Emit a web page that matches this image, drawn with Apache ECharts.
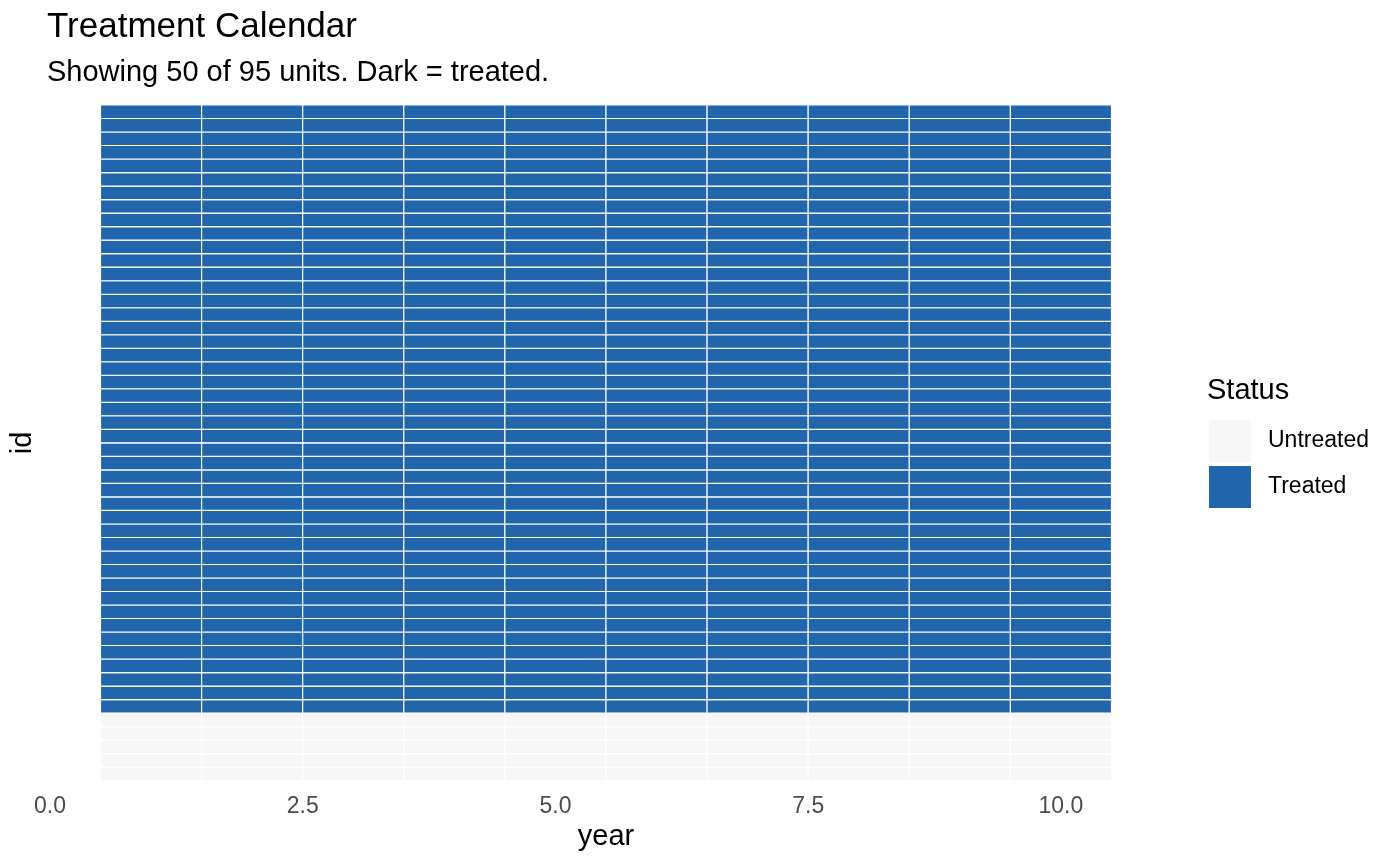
<!DOCTYPE html>
<html>
<head>
<meta charset="utf-8">
<script src="https://cdn.jsdelivr.net/npm/echarts@6/dist/echarts.min.js"></script>
<style>html,body{margin:0;padding:0;background:#fff}#c{width:1400px;height:866px}</style>
</head>
<body>
<div id="c"></div>
<script>
// Data
var years = [1, 2, 3, 4, 5, 6, 7, 8, 9, 10];
var unitIds = [1,2,3,4,5,6,7,8,9,10,11,12,13,14,15,16,17,18,19,20,21,22,23,24,25,
               26,27,28,29,30,31,32,33,34,35,36,37,38,39,40,41,42,43,44,45,46,47,48,49,50];
// status per unit (bottom to top): 0 = untreated, 1 = treated (same for every year shown)
var unitStatus = [0,0,0,0,0,1,1,1,1,1,1,1,1,1,1,1,1,1,1,1,1,1,1,1,1,
                  1,1,1,1,1,1,1,1,1,1,1,1,1,1,1,1,1,1,1,1,1,1,1,1,1];
var statusNames = ['Untreated', 'Treated'];
var xTicks = ['0.0', '2.5', '5.0', '7.5', '10.0'];

var FONT = 'Liberation Sans, Arial, sans-serif';
var colors = ['#F7F7F7', '#2166AC'];

var cells = [[], []];
unitIds.forEach(function (id, i) {
  years.forEach(function (yr) {
    cells[unitStatus[i]].push([yr, id]);
  });
});

function renderTile(params, api) {
  var x = api.value(0), y = api.value(1);
  var p0 = api.coord([x - 0.5, y + 0.5]);
  var p1 = api.coord([x + 0.5, y - 0.5]);
  return {
    type: 'rect',
    shape: { x: p0[0], y: p0[1], width: p1[0] - p0[0], height: p1[1] - p0[1] },
    style: { fill: api.visual('color'), stroke: '#ffffff', lineWidth: 1.1 }
  };
}

var chart = echarts.init(document.getElementById('c'), null, { renderer: 'canvas' });
chart.setOption({
  animation: false,
  backgroundColor: '#ffffff',
  textStyle: { fontFamily: FONT },
  title: [
    { text: 'Treatment Calendar', left: 47, top: 10, padding: 0,
      textStyle: { fontFamily: FONT, fontSize: 35, fontWeight: 'normal', color: '#000' } },
    { text: 'Showing 50 of 95 units. Dark = treated.', left: 47, top: 58.5, padding: 0,
      textStyle: { fontFamily: FONT, fontSize: 29, fontWeight: 'normal', color: '#000' } },
    { text: 'Status', left: 1207, top: 376, padding: 0,
      textStyle: { fontFamily: FONT, fontSize: 29, fontWeight: 'normal', color: '#000' } }
  ],
  legend: {
    orient: 'vertical',
    left: 1209,
    top: 420,
    padding: 0,
    itemWidth: 42,
    itemHeight: 42,
    itemGap: 4,
    icon: 'rect',
    data: statusNames,
    textStyle: { fontFamily: FONT, fontSize: 23, color: '#000', padding: [0, 0, 0, 12] }
  },
  grid: { left: 48, right: 238, top: 96.9, bottom: 866 - 788.8, containLabel: false },
  xAxis: {
    type: 'value',
    min: 0,
    max: 11,
    interval: 2.5,
    name: 'year',
    nameLocation: 'middle',
    nameGap: 32,
    nameTextStyle: { fontFamily: FONT, fontSize: 29, color: '#000' },
    axisLine: { show: false },
    axisTick: { show: false },
    splitLine: { show: false },
    axisLabel: {
      margin: 6,
      fontFamily: FONT,
      fontSize: 23,
      color: '#4D4D4D',
      showMaxLabel: false,
      formatter: function (v) { var i = Math.round(v / 2.5); return xTicks[i] !== undefined ? xTicks[i] : ''; }
    }
  },
  yAxis: {
    type: 'value',
    min: -0.1,
    max: 51.1,
    name: 'id',
    nameLocation: 'middle',
    nameRotate: 90,
    nameGap: 13,
    nameTextStyle: { fontFamily: FONT, fontSize: 29, color: '#000' },
    axisLine: { show: false },
    axisTick: { show: false },
    axisLabel: { show: false },
    splitLine: { show: false }
  },
  series: [
    { name: statusNames[0], type: 'custom', renderItem: renderTile, data: cells[0],
      itemStyle: { color: colors[0] }, encode: { x: 0, y: 1 } },
    { name: statusNames[1], type: 'custom', renderItem: renderTile, data: cells[1],
      itemStyle: { color: colors[1] }, encode: { x: 0, y: 1 } }
  ]
});
</script>
</body>
</html>
